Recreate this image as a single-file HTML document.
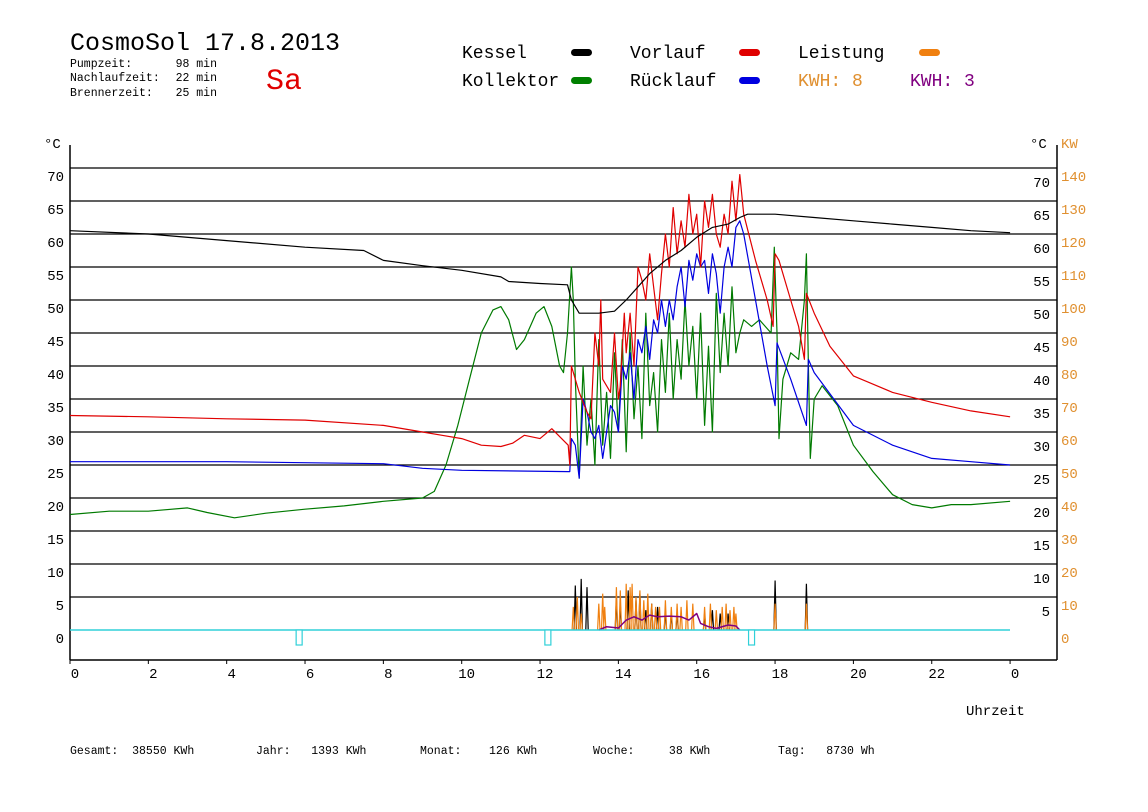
<!DOCTYPE html>
<html><head><meta charset="utf-8"><style>
body{margin:0;background:#fff}
svg{display:block}
text{font-family:"Liberation Mono",monospace;white-space:pre}
</style></head><body>
<svg id="chart" width="1148" height="812" viewBox="0 0 1148 812" xmlns="http://www.w3.org/2000/svg" xml:space="preserve">
<rect width="1148" height="812" fill="#fff"/>
<text x="70" y="50" font-size="25">CosmoSol 17.8.2013</text>
<g font-size="11.5">
<text x="70" y="67">Pumpzeit:</text><text x="217" y="67" text-anchor="end">98 min</text>
<text x="70" y="81">Nachlaufzeit:</text><text x="217" y="81" text-anchor="end">22 min</text>
<text x="70" y="96">Brennerzeit:</text><text x="217" y="96" text-anchor="end">25 min</text>
</g>
<text x="266" y="89" font-size="30" fill="#e00000">Sa</text>
<g font-size="18">
<text x="462" y="58">Kessel</text><rect x="571" y="49" width="21" height="7" rx="3.5" fill="#000"/>
<text x="630" y="58">Vorlauf</text><rect x="739" y="49" width="21" height="7" rx="3.5" fill="#e00000"/>
<text x="798" y="58">Leistung</text><rect x="919" y="49" width="21" height="7" rx="3.5" fill="#f08010"/>
<text x="462" y="86">Kollektor</text><rect x="571" y="77" width="21" height="7" rx="3.5" fill="#008000"/>
<text x="630" y="86">Rücklauf</text><rect x="739" y="77" width="21" height="7" rx="3.5" fill="#0000e0"/>
<text x="798" y="86" fill="#e09030">KWH: 8</text>
<text x="910" y="86" fill="#800080">KWH: 3</text>
</g>
<g id="grid"></g>
<g id="axes"></g>
<g id="series"></g>
<text x="966" y="715" font-size="14">Uhrzeit</text>
<g font-size="11.5">
<text x="70" y="754">Gesamt:  38550 KWh</text>
<text x="256" y="754">Jahr:   1393 KWh</text>
<text x="420" y="754">Monat:    126 KWh</text>
<text x="593" y="754">Woche:     38 KWh</text>
<text x="778" y="754">Tag:   8730 Wh</text>
</g>
</svg>
<script>
const tempTicks=[0,5,10,15,20,25,30,35,40,45,50,55,60,65,70];
const kwTicks=[0,10,20,30,40,50,60,70,80,90,100,110,120,130,140];
const hourTicks=[0,2,4,6,8,10,12,14,16,18,20,22,24];
const hourLabels=["0","2","4","6","8","10","12","14","16","18","20","22","0"];
const kesselH=[0,2,4,6,7.5,8,9,10,11,11.2,12,12.7,12.8,13,13.5,13.9,14.2,14.5,14.8,15.2,15.6,16,16.4,16.8,17.1,17.3,18,19,20,21,22,23,24];
const kesselV=[60.5,60,59,58,57.5,56,55.2,54.5,53.5,52.8,52.5,52.3,50,48,48,48.3,50,52,54,56,57.5,59.5,61,61.5,62.5,63,63,62.5,62,61.5,61,60.5,60.2];
const vorH=[0,2,4,6,8,9,9.5,10,10.5,11,11.3,11.6,12,12.3,12.55,12.72,12.76,12.8,13,13.2,13.3,13.4,13.5,13.55,13.6,13.8,13.9,14,14.05,14.15,14.2,14.3,14.4,14.5,14.6,14.7,14.8,14.9,15,15.1,15.2,15.3,15.4,15.5,15.6,15.7,15.8,15.9,16,16.1,16.2,16.3,16.4,16.5,16.6,16.7,16.8,16.9,17,17.1,17.2,17.5,17.8,17.95,18,18.1,18.4,18.6,18.75,18.8,19,19.4,20,21,22,23,24];
const vorV=[32.5,32.3,32,31.8,31,30,29.5,29,28,27.8,28.3,29.5,29,30.5,29,28,25,40,36,33,32,45,40,50,38,36,45,35,37,48,42,48,40,55,53,50,57,52,47,54,60,55,64,57,62,58,66,60,63,55,65,61,66,60,58,63,60,68,62,69,63,56,50,46,57,56,50,46,41,51,48,43,38.5,36,34.5,33.2,32.3];
const rueH=[0,4,8,9,10,12.72,12.76,12.8,12.9,13,13.1,13.2,13.3,13.4,13.5,13.6,13.7,13.8,13.9,14,14.1,14.2,14.3,14.4,14.5,14.6,14.7,14.8,14.9,15,15.1,15.2,15.3,15.4,15.5,15.6,15.7,15.8,15.9,16,16.1,16.2,16.3,16.4,16.5,16.6,16.7,16.8,16.9,17,17.1,17.2,17.5,17.8,18,18.05,18.4,18.8,18.85,19,19.5,20,21,22,23,24];
const rueV=[25.5,25.5,25.2,24.5,24.2,24,24,29,28,23,35,33,30,29,31,26,30,34,33,30,40,38,42,35,44,42,46,41,47,45,50,46,50,47,52,55,49,56,53,57,55,56,51,57,54,48,55,58,55,61,62,60,50,40,34,43.5,38,31,41,39,35,31,28,26,25.5,25];
const kolH=[0,1,2,3,3.5,4.2,5,6,7,8,9,9.3,9.6,9.9,10.2,10.5,10.8,11,11.2,11.4,11.6,11.9,12.1,12.3,12.5,12.6,12.7,12.8,12.85,12.9,13,13.1,13.2,13.3,13.4,13.5,13.6,13.7,13.8,13.9,14,14.1,14.2,14.3,14.4,14.5,14.6,14.7,14.8,14.9,15,15.1,15.2,15.3,15.4,15.5,15.6,15.7,15.8,15.9,16,16.1,16.2,16.3,16.4,16.5,16.6,16.7,16.8,16.9,17,17.1,17.2,17.4,17.6,17.9,17.98,18.05,18.1,18.2,18.4,18.6,18.75,18.8,18.85,18.9,19,19.2,19.6,20,20.5,21,21.5,22,22.5,23,24];
const kolV=[17.5,18,18,18.5,17.8,17,17.7,18.3,18.8,19.5,20,21,25,31,38,45,48.5,49,47,42.5,44,48,49,46,40,39,45,55,50,38,23,40,28,35,25,44,28,36,26,42,30,44,27,45,32,40,29,48,34,39,30,44,36,48,35,44,38,50,40,46,35,48,31,43,30,51,39,48,40,52,42,45,47,46,47,45,58,45,29,38,42,41,50,57,40,26,35,37,34,28,24,20.5,19,18.5,19,19,19.5];
const leistH=[12.85,12.95,13.05,13.5,13.6,13.65,13.95,14.05,14.2,14.3,14.35,14.45,14.55,14.65,14.75,14.85,14.95,15.05,15.2,15.35,15.5,15.6,15.75,15.9,16.2,16.35,16.5,16.65,16.75,16.85,16.95,17.0,18.0,18.8];
const leistV=[7,10,5,8,11,7,13,12,14,13,14,10,12,9,11,8,7,7,9,7,8,7,9,8,7,8,6,7,8,6,7,5,8,8];
const brennH=[12.9,13.05,13.2,13.95,14.05,14.25,14.45,14.55,14.7,14.85,15.0,15.2,15.35,15.5,16.2,16.4,16.6,16.8,18.0,18.8];
const brennV=[13.5,15.5,13,10,8,12,9,11,6,8,7,6,5,5,5,6,5,5,15,14];
const kwh2H=[13.5,13.7,14,14.2,14.4,14.6,14.8,15,15.3,15.6,15.8,16,16.1,16.3,16.5,16.8,17,17.1];
const kwh2V=[0,1,0.6,3,4,3,4.5,4,4.2,4,3,5,2,1,0.5,1.5,1.2,0];
const dipH=[5.85,12.2,17.4];

const NS="http://www.w3.org/2000/svg";
const X0=70,X1=1057,Y0=630;
function xs(h){return X0+h*39.17;}
function yT(t){return Y0-6.6*t;}
function yK(k){return Y0-3.3*k;}
function mk(tag,attrs,parent){const e=document.createElementNS(NS,tag);for(const k in attrs)e.setAttribute(k,attrs[k]);parent.appendChild(e);return e;}
const grid=document.getElementById('grid'),axes=document.getElementById('axes'),ser=document.getElementById('series');
tempTicks.forEach((t,i)=>{
  if(t>0){const l=mk('line',{x1:X0,x2:X1,y1:yT(t),y2:yT(t),stroke:'#000','stroke-width':1.2},grid);
  
  }
  const a=mk('text',{x:64,y:yT(t)+13,'font-size':14,'text-anchor':'end'},axes);a.textContent=t;
  
  
  if(t>0){const b=mk('text',{x:1050,y:yT(t)+19,'font-size':14,'text-anchor':'end'},axes);b.textContent=t;
  
  }
  const c=mk('text',{x:1061,y:yK(kwTicks[i])+13,'font-size':14,fill:'#e09030'},axes);c.textContent=kwTicks[i];
  
  
});
[['°C',44,148,'#000'],['°C',1030,148,'#000'],['KW',1061,148,'#e09030']].forEach(d=>{
  const t=mk('text',{x:d[1],y:d[2],'font-size':14,fill:d[3]},axes);t.textContent=d[0];
  
  
});
const la=mk('line',{x1:X0,x2:X0,y1:145,y2:660,stroke:'#000','stroke-width':1.5},axes);


const ra=mk('line',{x1:X1,x2:X1,y1:145,y2:660,stroke:'#000','stroke-width':1.5},axes);


const ba=mk('line',{x1:X0,x2:X1,y1:660,y2:660,stroke:'#000','stroke-width':1.5},axes);


hourTicks.forEach((h,i)=>{
  mk('line',{x1:xs(h),x2:xs(h),y1:660,y2:664,stroke:'#000'},axes);
  const t=mk('text',{x:xs(h)+5,y:678,'font-size':14,'text-anchor':'middle'},axes);t.textContent=hourLabels[i];
  
  
});
function line(H,V,yf,color,name,w){
  const p=mk('polyline',{points:H.map((h,i)=>xs(h).toFixed(1)+','+yf(V[i]).toFixed(1)).join(' '),fill:'none',stroke:color,'stroke-width':w||1.2,'stroke-linejoin':'round'},ser);
  
  
}
function spikes(H,V,color,name){
  let d='';H.forEach((h,i)=>{d+='M'+(xs(h)-1.2).toFixed(1)+','+Y0+'L'+xs(h).toFixed(1)+','+yK(V[i]).toFixed(1)+'L'+(xs(h)+1.2).toFixed(1)+','+Y0;});
  const p=mk('path',{d:d,fill:'none',stroke:color,'stroke-width':1.2},ser);
  
  
}
line(kolH,kolV,yT,'#007a00','kollektor-line');
line(rueH,rueV,yT,'#0000e0','ruecklauf-line');
line(vorH,vorV,yT,'#e00000','vorlauf-line');
line(kesselH,kesselV,yT,'#000','kessel-line');
spikes(brennH,brennV,'#000','brenner-spikes');
spikes(leistH,leistV,'#f08010','leistung-spikes');
line(kwh2H,kwh2V,yK,'#800080','kwh2-line',1.5);
const cy=mk('line',{x1:X0,x2:1010,y1:Y0,y2:Y0,stroke:'#30d0d8','stroke-width':1.5},ser);


dipH.forEach(h=>{
  const r=mk('rect',{x:xs(h)-3,y:Y0,width:6,height:15,fill:'#fff',stroke:'#30d0d8','stroke-width':1.2},ser);
  
  
});
</script>
</body></html>
